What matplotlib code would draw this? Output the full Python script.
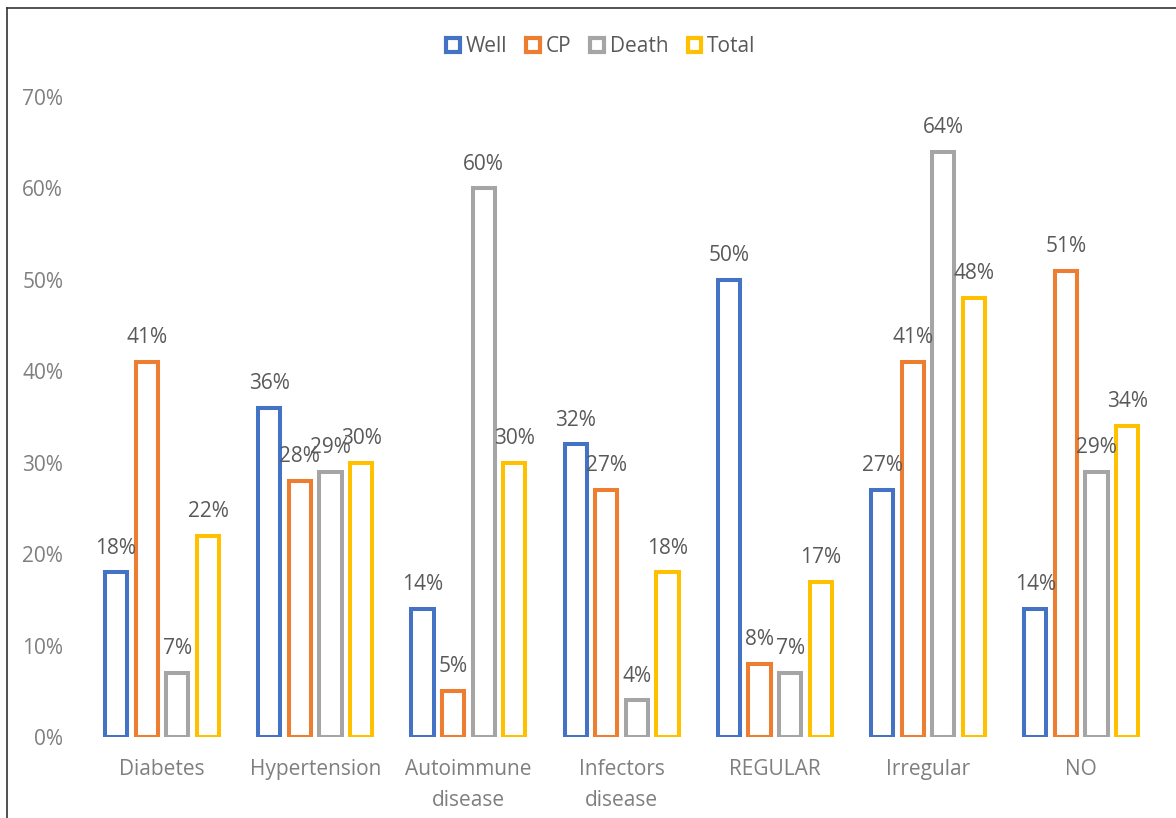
import numpy as np
import matplotlib.pyplot as plt
from matplotlib.lines import Line2D

categories = ['Diabetes', 'Hypertension', 'Autoimmune\ndisease', 'Infectors\ndisease',
              'REGULAR', 'Irregular', 'NO']
well = [18, 36, 14, 32, 50, 27, 14]
cp = [41, 28, 5, 27, 8, 41, 51]
death = [7, 29, 60, 4, 7, 64, 29]
total = [22, 30, 30, 18, 17, 48, 34]
yticks = [0, 10, 20, 30, 40, 50, 60, 70]

series = [('Well', well, '#4472C4'), ('CP', cp, '#ED7D31'),
          ('Death', death, '#A5A5A5'), ('Total', total, '#FFC000')]

plt.rcParams['font.family'] = ['Open Sans', 'DejaVu Sans']

fig = plt.figure(figsize=(11.76, 8.18), dpi=100)
ax = fig.add_axes([0.0726, 0.099, 0.912, 0.7824])

x = np.arange(len(categories))
step = 0.2
width = 0.145
for i, (name, vals, col) in enumerate(series):
    pos = x + (i - 1.5) * step
    bars = ax.bar(pos, vals, width, facecolor='white', edgecolor=col, linewidth=2.9, label=name)
    for b, v in zip(bars, vals):
        ax.annotate(f'{v}%', (b.get_x() + b.get_width() / 2, v), xytext=(0, 10),
                    textcoords='offset points', ha='center', va='bottom',
                    fontsize=15, color='#595959')

ax.set_xlim(-0.5, len(categories) - 0.5)
ax.set_ylim(0, 70)
ax.set_yticks(yticks)
ax.set_yticklabels([f'{t}%' for t in yticks])
ax.set_xticks(x)
ax.set_xticklabels(categories, linespacing=1.6)
ax.tick_params(axis='both', length=0, labelsize=15, labelcolor='#7F7F7F')
ax.tick_params(axis='y', pad=16)
ax.tick_params(axis='x', pad=16)
for s in ax.spines.values():
    s.set_visible(False)

handles = [plt.Rectangle((0, 0), 1, 1, facecolor='white', edgecolor=c, linewidth=3) for _, _, c in series]
leg = fig.legend(handles, [n for n, _, _ in series], loc='upper center', bbox_to_anchor=(0.511, 0.979),
                 ncol=4, frameon=False, fontsize=15, handlelength=0.65, handleheight=0.65,
                 handletextpad=0.3, columnspacing=0.9)
for t in leg.get_texts():
    t.set_color('#595959')

# outer border (top and left edges visible in the crop)
fig.add_artist(Line2D([7 / 1176, 7 / 1176], [0, 1 - 7.5 / 818], transform=fig.transFigure,
                      color='#333333', linewidth=1.2))
fig.add_artist(Line2D([7 / 1176, 1], [1 - 7.5 / 818, 1 - 7.5 / 818], transform=fig.transFigure,
                      color='#333333', linewidth=1.2))

fig.savefig('out.png', dpi=100)
